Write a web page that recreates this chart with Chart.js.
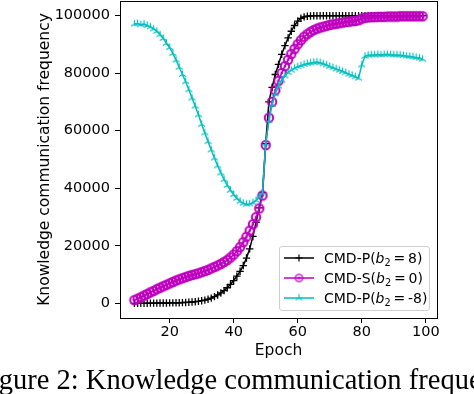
<!DOCTYPE html>
<html><head><meta charset="utf-8">
<script src="https://cdn.jsdelivr.net/npm/chart.js@4.4.1/dist/chart.umd.min.js"></script>
<style>
html,body{margin:0;padding:0;background:#fff;width:474px;height:394px;overflow:hidden}
#wrap{position:relative;width:474px;height:394px;overflow:hidden}
#c{position:absolute;left:0;top:0}
#legend{position:absolute;left:279px;top:246px;width:151px;height:65px;border:1px solid #d0d0d0;border-radius:3px;background:rgba(255,255,255,0.85);font-family:'DejaVu Sans';font-size:14px;color:#000;box-sizing:border-box}
.row{position:absolute;left:0;height:20px;line-height:20px;white-space:nowrap}
.row canvas{position:absolute;left:3px;top:3px}
.row span{position:absolute;left:44px;top:0}
.row i{font-style:italic}
.row sub{font-size:70%;vertical-align:-0.3em;line-height:0}
#caption{position:absolute;left:-25px;top:366px;line-height:1;white-space:nowrap;font-family:'Liberation Serif','Times New Roman',serif;font-size:28.5px;color:#000}
</style></head>
<body>
<div id="wrap">
<canvas id="c" width="474" height="394"></canvas>
<div id="legend">
  <div class="row" style="top:1px"><canvas id="l0" width="32" height="14"></canvas><span>CMD-P(<i>b</i><sub>2</sub>&thinsp;=&thinsp;8)</span></div>
  <div class="row" style="top:21px"><canvas id="l1" width="32" height="14"></canvas><span>CMD-S(<i>b</i><sub>2</sub>&thinsp;=&thinsp;0)</span></div>
  <div class="row" style="top:41px"><canvas id="l2" width="32" height="14"></canvas><span>CMD-P(<i>b</i><sub>2</sub>&thinsp;=&thinsp;-8)</span></div>
</div>
<div id="caption">Figure 2: Knowledge communication frequency</div>
</div>
<script>
const epochs = [9,10,11,12,13,14,15,16,17,18,19,20,21,22,23,24,25,26,27,28,29,30,31,32,33,34,35,36,37,38,39,40,41,42,43,44,45,46,47,48,49,50,51,52,53,54,55,56,57,58,59,60,61,62,63,64,65,66,67,68,69,70,71,72,73,74,75,76,77,78,79,80,81,82,83,84,85,86,87,88,89,90,91,92,93,94,95,96,97,98,99];

const cmdP8 = [100,100,100,100,100,150,150,150,200,200,200,250,250,300,300,350,400,450,550,650,800,1000,1200,1500,1900,2400,3000,3700,4500,5500,6700,8000,9500,11200,13200,15800,19000,23300,28200,33200,38500,55500,70000,75000,79500,83000,86500,89500,92200,94500,96500,98000,99000,99500,99700,99800,99900,99900,99900,99900,99900,99900,99900,99900,99900,99900,99900,99900,99900,99900,99900,99900,99900,99900,99900,99900,99900,99900,99900,99900,99900,99900,99900,99900,99900,99900,99900,99900,99900,99900,99900];

const cmdS0 = [1200,1700,2200,2800,3300,3900,4400,5000,5500,6000,6500,7000,7500,8000,8400,8800,9200,9600,9900,10200,10500,10900,11300,11700,12200,12700,13200,13800,14400,15100,16000,17000,18200,19600,21300,23200,25300,27500,30000,33000,37500,55000,64500,70000,74000,77300,80000,82400,84600,86600,88400,90000,91400,92600,93500,94300,94900,95400,95800,96100,96400,96700,96900,97100,97300,97500,97700,97800,98000,98100,98300,98900,99200,99300,99400,99400,99500,99500,99500,99600,99600,99600,99600,99700,99700,99700,99700,99700,99700,99700,99700];

const cmdPm8 = [97000,97200,96800,97000,96500,96000,95300,94500,93300,92000,90300,88800,86800,84500,82000,79500,77000,74200,71300,68500,65500,62200,59200,56200,53300,50500,47800,45300,43000,41000,39300,37800,36500,35500,34800,34500,34600,35000,35800,37000,38500,55500,63500,69000,72800,75500,77500,79000,80200,81000,81700,82200,82600,83000,83300,83500,83700,83800,83600,83200,82800,82300,81900,81400,81000,80600,80100,79600,79200,78700,78200,82800,85800,86200,86300,86300,86400,86300,86400,86500,86400,86300,86300,86200,86100,85900,85800,85600,85400,85200,84800];

const xTicks = [20,40,60,80,100];
const yTicks = [0,20000,40000,60000,80000,100000];
const seriesNames = ['CMD-P(b2=8)','CMD-S(b2=0)','CMD-P(b2=-8)'];

const BLACK = '#000000', MAG = '#bf00bf', CYAN = '#00bfbf';

function mkCanvas(w,h,fn){const c=document.createElement('canvas');c.width=w;c.height=h;fn(c.getContext('2d'),w,h);return c;}
const circDot = mkCanvas(12,12,(g)=>{g.strokeStyle=MAG;g.lineWidth=2;g.beginPath();g.arc(6,6,4.2,0,Math.PI*2);g.stroke();g.fillStyle=MAG;g.beginPath();g.arc(6,6,1.4,0,Math.PI*2);g.fill();});
const circDotL = mkCanvas(11,11,(g)=>{g.strokeStyle=MAG;g.lineWidth=1.4;g.beginPath();g.arc(5.5,5.5,3.6,0,Math.PI*2);g.stroke();g.fillStyle=MAG;g.beginPath();g.arc(5.5,5.5,1.3,0,Math.PI*2);g.fill();});
const tri = mkCanvas(11,11,(g)=>{g.strokeStyle=CYAN;g.lineWidth=1.2;const cx=5.5,cy=5.5,r=4;g.beginPath();g.moveTo(cx,cy);g.lineTo(cx,cy-r);g.moveTo(cx,cy);g.lineTo(cx-r*0.866,cy+r*0.5);g.moveTo(cx,cy);g.lineTo(cx+r*0.866,cy+r*0.5);g.stroke();});

function pts(vals){return epochs.map((e,i)=>({x:e,y:vals[i]}));}

const framePlugin = {id:'frame',afterDraw(chart){const a=chart.chartArea,ctx=chart.ctx;ctx.save();ctx.strokeStyle='#000';ctx.lineWidth=1;ctx.strokeRect(Math.round(a.left)+0.5,Math.round(a.top)+0.5,Math.round(a.right-a.left),Math.round(a.bottom-a.top));ctx.restore();}};

Chart.defaults.font.family = 'DejaVu Sans';
Chart.defaults.font.size = 14.5;
Chart.defaults.color = '#000';

new Chart(document.getElementById('c'),{
  type:'line',
  data:{datasets:[
    {label:seriesNames[2],data:pts(cmdPm8),borderColor:CYAN,backgroundColor:CYAN,borderWidth:1.5,pointStyle:tri,pointRadius:4,order:0},
    {label:seriesNames[1],data:pts(cmdS0),borderColor:MAG,backgroundColor:MAG,borderWidth:1.5,pointStyle:circDot,pointRadius:4,order:1},
    {label:seriesNames[0],data:pts(cmdP8),borderColor:BLACK,backgroundColor:BLACK,borderWidth:1.5,pointStyle:'cross',pointRadius:3.7,pointBorderWidth:1.3,pointBorderColor:BLACK,order:2}
  ]},
  options:{
    responsive:false,animation:false,
    layout:{autoPadding:false,padding:{left:0,right:37,top:1,bottom:34}},
    plugins:{legend:{display:false},tooltip:{enabled:false}},
    elements:{line:{tension:0}},
    scales:{
      x:{type:'linear',min:4.5,max:103.5,
        afterBuildTicks(s){s.ticks=xTicks.map(v=>({value:v}));},
        afterFit(s){s.height=42;s.paddingLeft=0;s.paddingRight=0;},
        ticks:{padding:1,autoSkip:false,maxRotation:0,callback:v=>String(v)},
        grid:{display:true,drawOnChartArea:false,drawTicks:true,tickLength:5,tickColor:'#000',tickWidth:1},
        border:{display:true,color:'#000',width:1},
        title:{display:true,text:'Epoch',padding:{top:0,bottom:0},font:{size:15.5,lineHeight:1.2}}},
      y:{type:'linear',min:-5000,max:105000,
        afterBuildTicks(s){s.ticks=yTicks.map(v=>({value:v}));},
        afterFit(s){s.width=120;s.paddingTop=0;s.paddingBottom=0;},
        ticks:{padding:5,autoSkip:false,callback:v=>String(v)},
        grid:{display:true,drawOnChartArea:false,drawTicks:true,tickLength:5,tickColor:'#000',tickWidth:1},
        border:{display:true,color:'#000',width:1},
        title:{display:true,text:'Knowledge communication frequency',padding:{top:36,bottom:0},font:{size:15.5,lineHeight:1.2}}}
    }
  },
  plugins:[framePlugin]
});

// legend samples
function legendSample(id,color,marker){const c=document.getElementById(id),g=c.getContext('2d');g.strokeStyle=color;g.lineWidth=1.5;g.beginPath();g.moveTo(1,7);g.lineTo(31,7);g.stroke();marker(g);}
legendSample('l0',BLACK,(g)=>{g.lineWidth=1.2;g.beginPath();g.moveTo(16,3.5);g.lineTo(16,10.5);g.moveTo(12.5,7);g.lineTo(19.5,7);g.stroke();});
legendSample('l1',MAG,(g)=>{g.drawImage(circDotL,16-5.5,7-5.5);});
legendSample('l2',CYAN,(g)=>{g.drawImage(tri,16-5.5,7-5.5);});
</script>
</body></html>
